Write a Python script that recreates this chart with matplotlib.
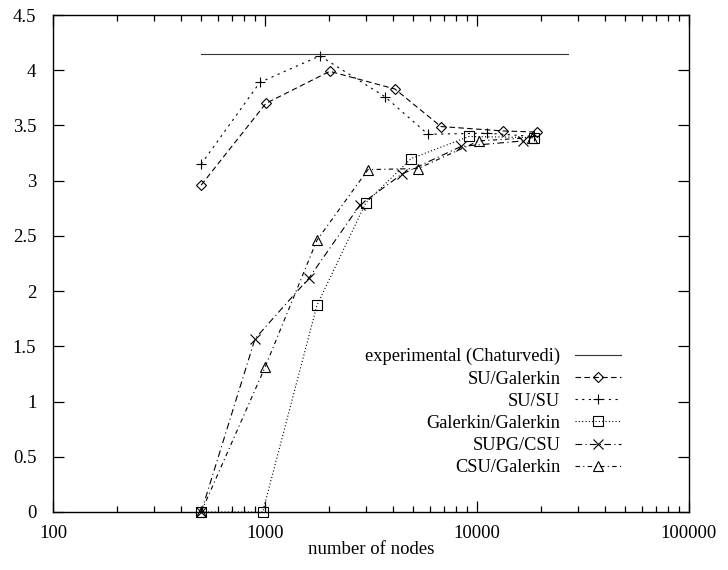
import matplotlib
matplotlib.use("Agg")
import matplotlib.pyplot as plt
from matplotlib.ticker import LogLocator, FixedLocator, NullFormatter

plt.rcParams['font.family'] = ['Liberation Serif', 'DejaVu Serif']

# Data
exp_x = [500, 27000]
exp_y = [4.15, 4.15]

su_gal_x = [500, 1010, 2020, 4100, 6760, 13300, 19200]
su_gal_y = [2.96, 3.70, 3.99, 3.83, 3.49, 3.45, 3.44]

su_su_x = [500, 946, 1815, 3680, 5870, 11100, 18600]
su_su_y = [3.15, 3.89, 4.13, 3.76, 3.42, 3.43, 3.40]

gal_gal_x = [500, 975, 1757, 2990, 4890, 9160, 18600]
gal_gal_y = [0.0, 0.0, 1.87, 2.80, 3.20, 3.40, 3.39]

supg_csu_x = [500, 898, 1615, 2806, 4430, 8410, 16500]
supg_csu_y = [0.0, 1.57, 2.12, 2.78, 3.06, 3.31, 3.36]

csu_gal_x = [500, 1000, 1757, 3060, 5270, 10200, 18150]
csu_gal_y = [0.0, 1.31, 2.46, 3.10, 3.11, 3.36, 3.39]

labels = ["experimental (Chaturvedi)", "SU/Galerkin", "SU/SU",
          "Galerkin/Galerkin", "SUPG/CSU", "CSU/Galerkin"]

xticks = [100, 1000, 10000, 100000]
xticklabels = ["100", "1000", "10000", "100000"]
yticks = [0, 0.5, 1, 1.5, 2, 2.5, 3, 3.5, 4, 4.5]
yticklabels = ["0", "0.5", "1", "1.5", "2", "2.5", "3", "3.5", "4", "4.5"]

fig = plt.figure(figsize=(7.28, 5.70), dpi=100)
ax = fig.add_axes([53/728, 1-512/570, (689-53)/728, (512-15)/570])

lw = 0.8
common = dict(color='black', lw=lw, markerfacecolor='none', markeredgecolor='black',
              markeredgewidth=0.8, clip_on=False)

ax.plot(exp_x, exp_y, color='#333333', lw=0.8, label=labels[0])
ax.plot(su_gal_x, su_gal_y, marker='D', ms=5.5, dashes=(5, 3), label=labels[1], **common)
ax.plot(su_su_x, su_su_y, marker='+', ms=7.5, dashes=(2, 4), label=labels[2], **common)
ax.plot(gal_gal_x, gal_gal_y, marker='s', ms=7, dashes=(1, 2), label=labels[3], **common)
ax.plot(supg_csu_x, supg_csu_y, marker='x', ms=7, dashes=(6, 3, 1, 3), label=labels[4], **common)
ax.plot(csu_gal_x, csu_gal_y, marker='^', ms=7, dashes=(4, 3, 1, 3), label=labels[5], **common)

ax.set_xscale('log')
ax.set_xlim(100, 100000)
ax.set_ylim(0, 4.5)

ax.xaxis.set_major_locator(FixedLocator(xticks))
ax.set_xticklabels(xticklabels)
ax.xaxis.set_minor_locator(LogLocator(base=10, subs=range(2, 10)))
ax.xaxis.set_minor_formatter(NullFormatter())
ax.set_yticks(yticks)
ax.set_yticklabels(yticklabels)

ax.tick_params(which='both', direction='in', top=True, right=True, labelsize=13.5, width=0.9)
ax.tick_params(which='major', length=8)
ax.tick_params(axis='y', which='major', pad=12)
ax.tick_params(axis='x', which='major', pad=9)
ax.tick_params(which='minor', length=4)
for s in ax.spines.values():
    s.set_linewidth(1.0)

ax.set_xlabel("number of nodes", fontsize=13.5, labelpad=0)

leg = ax.legend(loc='lower right', bbox_to_anchor=(0.91, 0.05), frameon=False, markerfirst=False,
                fontsize=13.2, handlelength=2.5, labelspacing=0.28, borderaxespad=0.2,
                handletextpad=0.8)

fig.savefig("out.png", dpi=100)
